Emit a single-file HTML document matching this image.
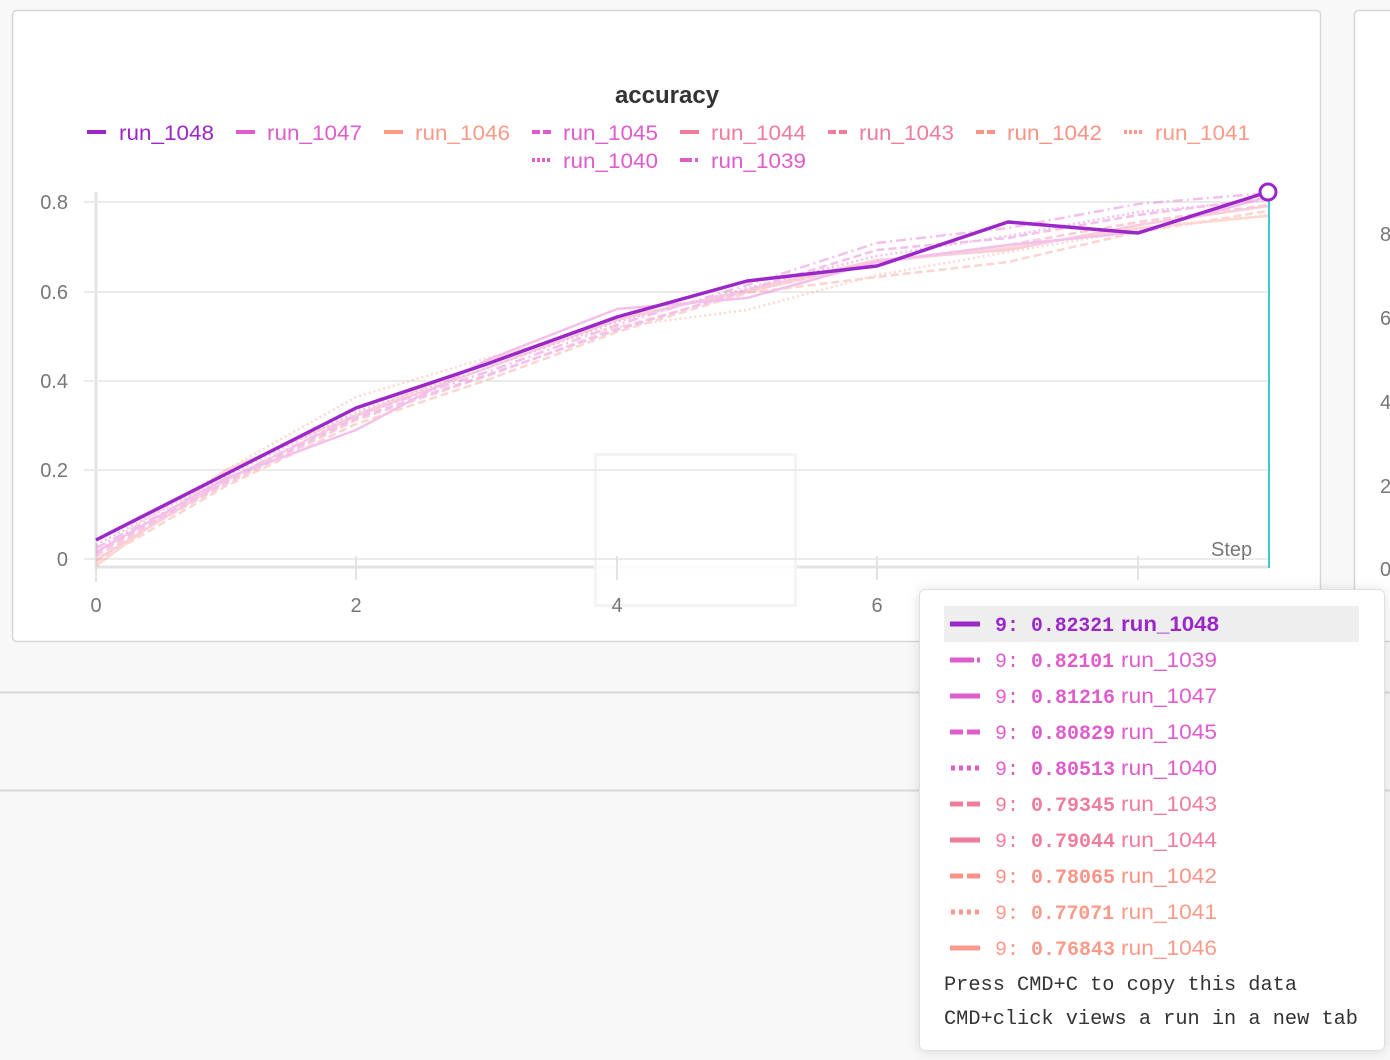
<!DOCTYPE html>
<html>
<head>
<meta charset="utf-8">
<style>
  html,body{margin:0;padding:0;background:#f8f8f8;}
  svg{display:block;}
  .sans{font-family:"Liberation Sans",sans-serif;}
  .mono{font-family:"Liberation Mono",monospace;}
</style>
</head>
<body>
<svg width="1390" height="1060" viewBox="0 0 1390 1060" xmlns="http://www.w3.org/2000/svg">
  <defs>
    <filter id="sh" x="-10%" y="-10%" width="120%" height="120%">
      <feDropShadow dx="0" dy="1" stdDeviation="6" flood-color="#000" flood-opacity="0.12"/>
    </filter>
  </defs>
  <rect x="0" y="0" width="1390" height="1060" fill="#f8f8f8"/>

  <!-- horizontal separators -->
  <line x1="0" y1="692.5" x2="1390" y2="692.5" stroke="#d9d9d9" stroke-width="2"/>
  <line x1="0" y1="790.5" x2="1390" y2="790.5" stroke="#d9d9d9" stroke-width="2"/>

  <!-- main panel -->
  <rect x="12.5" y="10.5" width="1308" height="631" rx="4" fill="#ffffff" stroke="#d6d6d6" stroke-width="1.5"/>
  <!-- second panel -->
  <rect x="1354.5" y="10.5" width="80" height="631" rx="4" fill="#ffffff" stroke="#d6d6d6" stroke-width="1.5"/>
  <g class="sans" font-size="20" fill="#777">
    <text x="1380" y="241">8</text>
    <text x="1380" y="325">6</text>
    <text x="1380" y="409">4</text>
    <text x="1380" y="493">2</text>
    <text x="1380" y="576">0</text>
  </g>

  <!-- title -->
  <text class="sans" x="667" y="103" font-size="24" font-weight="bold" fill="#333" text-anchor="middle">accuracy</text>

  <!-- legend -->
  <g stroke-width="4" fill="none">
    <line x1="87" y1="132" x2="106" y2="132" stroke="#9c27c9"/>
    <line x1="236" y1="132" x2="255" y2="132" stroke="#e05ccd"/>
    <line x1="384" y1="132" x2="403" y2="132" stroke="#fb9a88"/>
    <line x1="532" y1="132" x2="551" y2="132" stroke="#e05ccd" stroke-dasharray="8,3"/>
    <line x1="680" y1="132" x2="699" y2="132" stroke="#f07c9c"/>
    <line x1="828" y1="132" x2="847" y2="132" stroke="#f07c9c" stroke-dasharray="8,3"/>
    <line x1="976" y1="132" x2="995" y2="132" stroke="#fb9385" stroke-dasharray="8,3"/>
    <line x1="1124" y1="132" x2="1143" y2="132" stroke="#fb9a88" stroke-dasharray="3,2"/>
    <line x1="532" y1="160" x2="551" y2="160" stroke="#e05ccd" stroke-dasharray="3,2"/>
    <line x1="680" y1="160" x2="699" y2="160" stroke="#e05ccd" stroke-dasharray="12,3,3,3"/>
  </g>
  <g class="sans" font-size="21">
    <text x="119" y="140" fill="#9c27c9" textLength="95" lengthAdjust="spacingAndGlyphs">run_1048</text>
    <text x="267" y="140" fill="#e05ccd" textLength="95" lengthAdjust="spacingAndGlyphs">run_1047</text>
    <text x="415" y="140" fill="#fb9a88" textLength="95" lengthAdjust="spacingAndGlyphs">run_1046</text>
    <text x="563" y="140" fill="#e05ccd" textLength="95" lengthAdjust="spacingAndGlyphs">run_1045</text>
    <text x="711" y="140" fill="#f07c9c" textLength="95" lengthAdjust="spacingAndGlyphs">run_1044</text>
    <text x="859" y="140" fill="#f07c9c" textLength="95" lengthAdjust="spacingAndGlyphs">run_1043</text>
    <text x="1007" y="140" fill="#fb9385" textLength="95" lengthAdjust="spacingAndGlyphs">run_1042</text>
    <text x="1155" y="140" fill="#fb9a88" textLength="95" lengthAdjust="spacingAndGlyphs">run_1041</text>
    <text x="563" y="168" fill="#e05ccd" textLength="95" lengthAdjust="spacingAndGlyphs">run_1040</text>
    <text x="711" y="168" fill="#e05ccd" textLength="95" lengthAdjust="spacingAndGlyphs">run_1039</text>
  </g>

  <!-- axes -->
  <line x1="96" y1="192" x2="96" y2="570" stroke="#e3e3e3" stroke-width="3"/>
  <line x1="96" y1="567" x2="1269" y2="567" stroke="#e3e3e3" stroke-width="3"/>

  <!-- faint zoom box -->
  <rect x="595.5" y="454.5" width="200" height="151" fill="#ffffff" fill-opacity="0.85" stroke="#f4f4f4" stroke-width="3"/>

  <!-- gridlines -->
  <g stroke="#ebebeb" stroke-width="2">
    <line x1="84" y1="202" x2="1268" y2="202"/>
    <line x1="84" y1="292" x2="1268" y2="292"/>
    <line x1="84" y1="381" x2="1268" y2="381"/>
    <line x1="84" y1="470" x2="1268" y2="470"/>
    <line x1="84" y1="559" x2="1268" y2="559"/>
  </g>
  <g stroke="#e3e3e3" stroke-width="2">
    <line x1="96" y1="556" x2="96" y2="582"/>
    <line x1="356" y1="556" x2="356" y2="580"/>
    <line x1="617" y1="556" x2="617" y2="580"/>
    <line x1="877" y1="556" x2="877" y2="580"/>
    <line x1="1138" y1="556" x2="1138" y2="580"/>
  </g>
  <g class="sans" font-size="20" fill="#777">
    <text x="68" y="209" text-anchor="end">0.8</text>
    <text x="68" y="299" text-anchor="end">0.6</text>
    <text x="68" y="388" text-anchor="end">0.4</text>
    <text x="68" y="477" text-anchor="end">0.2</text>
    <text x="68" y="566" text-anchor="end">0</text>
    <text x="96" y="612" text-anchor="middle">0</text>
    <text x="356" y="612" text-anchor="middle">2</text>
    <text x="617" y="612" text-anchor="middle">4</text>
    <text x="877" y="612" text-anchor="middle">6</text>
    <text x="1211" y="556">Step</text>
  </g>

  <!-- faint series -->
  <g fill="none" stroke-width="2.5" stroke-linejoin="round" opacity="0.38">
    <polyline stroke="#fb9a88" points="96,566 226,470 356,415 487,362 617,318 747,292 877,262 1008,248 1138,228 1268,216"/>
    <polyline stroke="#fb9a88" stroke-dasharray="2,3" points="96,550 226,470 356,397 487,358 617,327 747,310 877,275 1008,252 1138,230 1268,215"/>
    <polyline stroke="#fb9385" stroke-dasharray="8,4" points="96,562 226,486 356,424 487,380 617,332 747,293 877,277 1008,262 1138,232 1268,211"/>
    <polyline stroke="#f07c9c" points="96,560 226,480 356,416 487,368 617,320 747,290 877,260 1008,250 1138,225 1268,206"/>
    <polyline stroke="#f07c9c" stroke-dasharray="8,4" points="96,556 226,484 356,420 487,376 617,328 747,292 877,262 1008,245 1138,222 1268,205"/>
    <polyline stroke="#e05ccd" stroke-dasharray="2,3" points="96,545 226,476 356,412 487,368 617,322 747,288 877,256 1008,236 1138,212 1268,200"/>
    <polyline stroke="#e05ccd" stroke-dasharray="8,4" points="96,553 226,482 356,418 487,375 617,330 747,290 877,250 1008,238 1138,215 1268,198"/>
    <polyline stroke="#e05ccd" points="96,552 226,478 356,430 487,360 617,309 747,298 877,262 1008,245 1138,232 1268,197"/>
    <polyline stroke="#e05ccd" stroke-dasharray="10,4,2,4" points="96,548 226,480 356,415 487,372 617,325 747,285 877,243 1008,228 1138,204 1268,193"/>
  </g>

  <!-- cyan hover line -->
  <line x1="1269" y1="192" x2="1269" y2="568" stroke="#3cc8d6" stroke-width="2"/>

  <!-- highlighted run -->
  <polyline fill="none" stroke="#9c27c9" stroke-width="3.5" stroke-linejoin="round" points="96,540 226,474 356,408 487,364 617,317 747,281 877,266 1008,222 1138,233 1268,192"/>
  <circle cx="1268" cy="192" r="8" fill="#ffffff" stroke="#9c27c9" stroke-width="3"/>

  <!-- tooltip -->
  <rect x="919.5" y="589.5" width="465" height="461" rx="6" fill="#ffffff" stroke="#e0e0e0" stroke-width="1" filter="url(#sh)"/>
  <rect x="944" y="606" width="415" height="36" fill="#eeeeee"/>

  <g stroke-width="5" fill="none">
    <line x1="950" y1="624" x2="980" y2="624" stroke="#9c27c9"/>
    <line x1="950" y1="660" x2="974" y2="660" stroke="#e05ccd"/>
    <line x1="977" y1="660" x2="980" y2="660" stroke="#e05ccd"/>
    <line x1="950" y1="696" x2="980" y2="696" stroke="#e05ccd"/>
    <line x1="950" y1="732" x2="980" y2="732" stroke="#e05ccd" stroke-dasharray="13,4"/>
    <line x1="951" y1="768" x2="980" y2="768" stroke="#e05ccd" stroke-dasharray="4,4"/>
    <line x1="950" y1="804" x2="980" y2="804" stroke="#f07c9c" stroke-dasharray="13,4"/>
    <line x1="950" y1="840" x2="980" y2="840" stroke="#f07c9c"/>
    <line x1="950" y1="876" x2="980" y2="876" stroke="#fb9385" stroke-dasharray="13,4"/>
    <line x1="951" y1="912" x2="980" y2="912" stroke="#fb9a88" stroke-dasharray="4,4"/>
    <line x1="950" y1="948" x2="980" y2="948" stroke="#fb9a88"/>
  </g>

  <g font-size="20">
    <g class="mono">
      <text x="995" y="631" fill="#9c27c9" font-weight="bold">9:</text>
      <text x="995" y="667" fill="#e05ccd">9:</text>
      <text x="995" y="703" fill="#e05ccd">9:</text>
      <text x="995" y="739" fill="#e05ccd">9:</text>
      <text x="995" y="775" fill="#e05ccd">9:</text>
      <text x="995" y="811" fill="#f07c9c">9:</text>
      <text x="995" y="847" fill="#f07c9c">9:</text>
      <text x="995" y="883" fill="#fb9385">9:</text>
      <text x="995" y="919" fill="#fb9a88">9:</text>
      <text x="995" y="955" fill="#fb9a88">9:</text>
    </g>
    <g class="mono" font-weight="bold">
      <text x="1031" y="631" fill="#9c27c9" textLength="83" lengthAdjust="spacingAndGlyphs">0.82321</text>
      <text x="1031" y="667" fill="#e05ccd" textLength="83" lengthAdjust="spacingAndGlyphs">0.82101</text>
      <text x="1031" y="703" fill="#e05ccd" textLength="84" lengthAdjust="spacingAndGlyphs">0.81216</text>
      <text x="1031" y="739" fill="#e05ccd" textLength="84" lengthAdjust="spacingAndGlyphs">0.80829</text>
      <text x="1031" y="775" fill="#e05ccd" textLength="84" lengthAdjust="spacingAndGlyphs">0.80513</text>
      <text x="1031" y="811" fill="#f07c9c" textLength="84" lengthAdjust="spacingAndGlyphs">0.79345</text>
      <text x="1031" y="847" fill="#f07c9c" textLength="84" lengthAdjust="spacingAndGlyphs">0.79044</text>
      <text x="1031" y="883" fill="#fb9385" textLength="84" lengthAdjust="spacingAndGlyphs">0.78065</text>
      <text x="1031" y="919" fill="#fb9a88" textLength="83" lengthAdjust="spacingAndGlyphs">0.77071</text>
      <text x="1031" y="955" fill="#fb9a88" textLength="84" lengthAdjust="spacingAndGlyphs">0.76843</text>
    </g>
    <g class="sans" font-size="21">
      <text x="1121" y="631" fill="#9c27c9" font-weight="bold" textLength="98" lengthAdjust="spacingAndGlyphs">run_1048</text>
      <text x="1121" y="667" fill="#e05ccd" textLength="96" lengthAdjust="spacingAndGlyphs">run_1039</text>
      <text x="1121" y="703" fill="#e05ccd" textLength="96" lengthAdjust="spacingAndGlyphs">run_1047</text>
      <text x="1121" y="739" fill="#e05ccd" textLength="96" lengthAdjust="spacingAndGlyphs">run_1045</text>
      <text x="1121" y="775" fill="#e05ccd" textLength="96" lengthAdjust="spacingAndGlyphs">run_1040</text>
      <text x="1121" y="811" fill="#f07c9c" textLength="96" lengthAdjust="spacingAndGlyphs">run_1043</text>
      <text x="1121" y="847" fill="#f07c9c" textLength="96" lengthAdjust="spacingAndGlyphs">run_1044</text>
      <text x="1121" y="883" fill="#fb9385" textLength="96" lengthAdjust="spacingAndGlyphs">run_1042</text>
      <text x="1121" y="919" fill="#fb9a88" textLength="96" lengthAdjust="spacingAndGlyphs">run_1041</text>
      <text x="1121" y="955" fill="#fb9a88" textLength="96" lengthAdjust="spacingAndGlyphs">run_1046</text>
    </g>
    <g class="mono" fill="#333">
      <text x="944" y="990" textLength="353" lengthAdjust="spacingAndGlyphs">Press CMD+C to copy this data</text>
      <text x="944" y="1024" textLength="414" lengthAdjust="spacingAndGlyphs">CMD+click views a run in a new tab</text>
    </g>
  </g>
</svg>
</body>
</html>
